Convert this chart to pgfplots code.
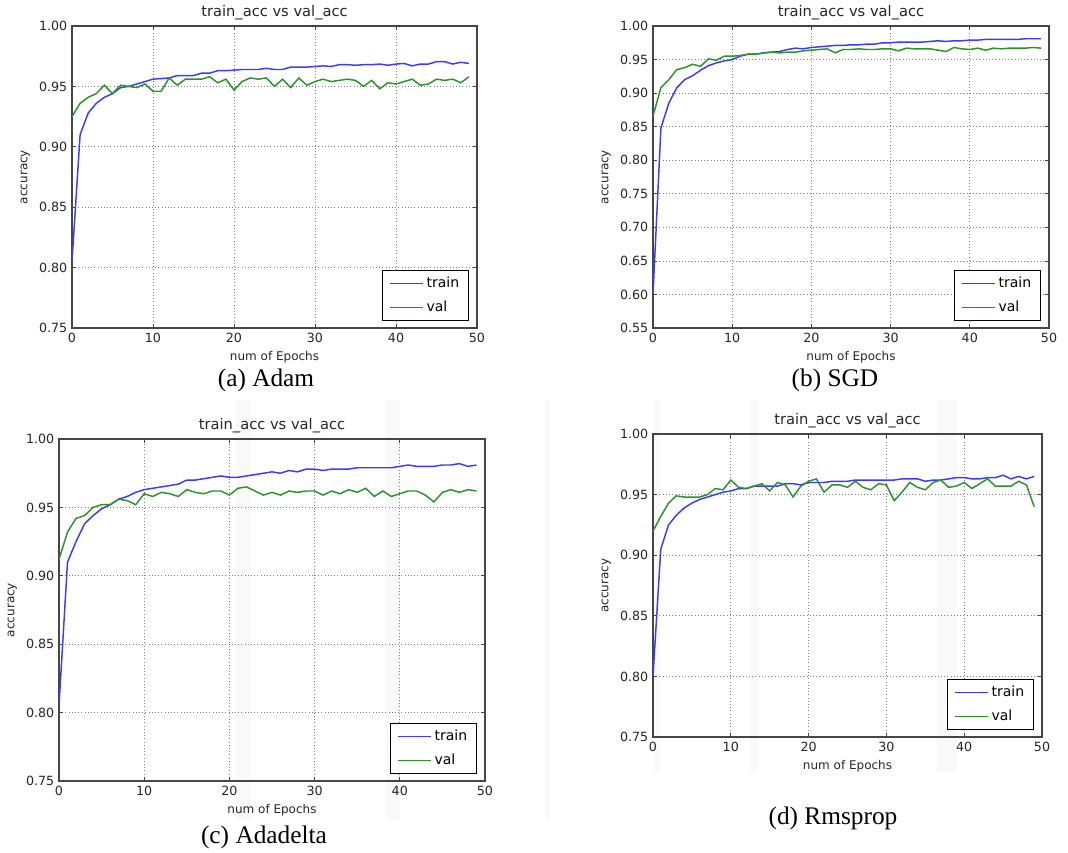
\documentclass[border=0pt]{standalone}
\usepackage{pgfplots}
\pgfplotsset{compat=1.18}
\usepackage{fontspec}
\setmainfont{DejaVu Sans}
\newfontfamily\capfont{Liberation Serif}
\definecolor{trcol}{RGB}{60,60,245}
\definecolor{vacol}{RGB}{45,145,45}
\definecolor{axcol}{RGB}{70,70,70}

\pgfplotstableread{
ep  atr    ava    btr    bva    ctr    cva    dtr    dva
0   0.805  0.925  0.600  0.866  0.805  0.912  0.800  0.920
1   0.910  0.936  0.848  0.908  0.910  0.932  0.905  0.932
2   0.928  0.941  0.885  0.920  0.925  0.942  0.925  0.943
3   0.936  0.944  0.908  0.935  0.938  0.944  0.933  0.949
4   0.941  0.951  0.920  0.938  0.944  0.950  0.939  0.948
5   0.944  0.944  0.926  0.943  0.949  0.952  0.943  0.948
6   0.949  0.951  0.934  0.940  0.952  0.952  0.946  0.948
7   0.950  0.950  0.941  0.951  0.956  0.956  0.948  0.950
8   0.952  0.949  0.945  0.949  0.958  0.955  0.950  0.955
9   0.954  0.952  0.948  0.955  0.961  0.952  0.952  0.954
10  0.956  0.946  0.950  0.955  0.963  0.960  0.953  0.962
11  0.9565 0.946  0.955  0.956  0.964  0.958  0.955  0.956
12  0.957  0.957  0.958  0.958  0.965  0.961  0.955  0.955
13  0.959  0.951  0.958  0.958  0.966  0.960  0.957  0.957
14  0.959  0.956  0.960  0.960  0.967  0.958  0.957  0.959
15  0.959  0.956  0.961  0.961  0.970  0.963  0.957  0.953
16  0.961  0.956  0.962  0.960  0.970  0.961  0.957  0.960
17  0.961  0.958  0.965  0.961  0.971  0.960  0.959  0.958
18  0.963  0.953  0.967  0.961  0.972  0.962  0.959  0.948
19  0.963  0.956  0.966  0.963  0.973  0.962  0.958  0.957
20  0.9635 0.947  0.968  0.964  0.972  0.959  0.960  0.961
21  0.964  0.954  0.969  0.965  0.972  0.964  0.960  0.963
22  0.964  0.957  0.970  0.966  0.973  0.965  0.960  0.952
23  0.964  0.956  0.971  0.960  0.974  0.962  0.961  0.958
24  0.965  0.957  0.971  0.965  0.975  0.959  0.961  0.958
25  0.964  0.950  0.972  0.965  0.976  0.961  0.961  0.956
26  0.964  0.956  0.972  0.966  0.975  0.959  0.962  0.961
27  0.966  0.949  0.973  0.965  0.977  0.962  0.962  0.956
28  0.966  0.957  0.973  0.965  0.976  0.961  0.962  0.954
29  0.966  0.951  0.975  0.966  0.978  0.962  0.962  0.959
30  0.9665 0.954  0.975  0.966  0.978  0.962  0.962  0.958
31  0.967  0.956  0.976  0.963  0.977  0.959  0.962  0.945
32  0.9665 0.954  0.976  0.967  0.978  0.962  0.963  0.952
33  0.968  0.955  0.976  0.966  0.978  0.960  0.963  0.960
34  0.968  0.956  0.976  0.966  0.978  0.963  0.963  0.956
35  0.9675 0.955  0.977  0.966  0.979  0.961  0.961  0.954
36  0.968  0.950  0.978  0.964  0.979  0.964  0.962  0.960
37  0.968  0.955  0.977  0.962  0.979  0.958  0.962  0.962
38  0.9685 0.948  0.978  0.968  0.979  0.962  0.963  0.956
39  0.9675 0.953  0.978  0.966  0.979  0.958  0.964  0.957
40  0.9685 0.952  0.979  0.965  0.980  0.960  0.964  0.960
41  0.969  0.954  0.979  0.967  0.981  0.962  0.963  0.955
42  0.967  0.956  0.980  0.964  0.980  0.962  0.963  0.959
43  0.9685 0.951  0.980  0.967  0.980  0.959  0.964  0.963
44  0.9685 0.952  0.980  0.966  0.980  0.954  0.964  0.957
45  0.9705 0.956  0.980  0.967  0.981  0.961  0.966  0.957
46  0.9705 0.955  0.980  0.967  0.981  0.963  0.963  0.957
47  0.9685 0.956  0.981  0.967  0.982  0.961  0.965  0.961
48  0.970  0.953  0.981  0.968  0.980  0.963  0.963  0.958
49  0.969  0.958  0.981  0.967  0.981  0.962  0.965  0.940
}\acc

\pgfplotsset{
  accplot/.style={
    scale only axis, anchor=south west,
    xmin=0, xmax=50, xtick={0,10,...,50},
    ymax=1.00,
    axis line style={axcol, line width=0.9pt},
    tick style={axcol, line width=0.5pt}, tick align=inside,
    major tick length=3pt,
    grid=major,
    major grid style={gray, dash pattern=on 0.8pt off 1.6pt, line width=0.5pt},
    tick label style={font=\fontsize{9.5}{10}\selectfont, text=black!85},
    /pgf/number format/assume math mode=true,
    yticklabel style={/pgf/number format/fixed, /pgf/number format/fixed zerofill, /pgf/number format/precision=2},
    xlabel={num of Epochs}, ylabel={accuracy},
    label style={font=\fontsize{9}{10}\selectfont, text=black!85},
    title={train\_acc vs val\_acc},
    title style={font=\fontsize{11}{12}\selectfont, text=black!85, yshift=-5pt},
    legend style={at={(axis description cs:1,0)}, anchor=south east,
      xshift=-6pt, yshift=5.25pt, draw=black, line width=0.8pt,
      font=\fontsize{10.5}{12}\selectfont, inner xsep=5pt, inner ysep=3pt,
      row sep=4.5pt, cells={anchor=west}},
    legend image code/.code={%
      \path (0pt,0pt) -- (25pt,0pt);
      \fill[#1, draw=none] (0pt,-0.65pt) rectangle (16pt,0.65pt);},
    every axis plot/.append style={line width=1.1pt},
  }
}

\begin{document}
\begin{tikzpicture}
\path (0pt,0pt) rectangle (801pt,-636.75pt);
% faint scan stripes
\fill[gray!5] (177pt,-300pt) rectangle (188.25pt,-615pt);
\fill[gray!5] (289.5pt,-300pt) rectangle (300pt,-615pt);
\fill[gray!5] (408.75pt,-300pt) rectangle (411.75pt,-615pt);
\fill[gray!5] (490.5pt,-300pt) rectangle (495pt,-579pt);
\fill[gray!5] (562.5pt,-300pt) rectangle (568.5pt,-579pt);
\fill[gray!5] (702.75pt,-300pt) rectangle (717.75pt,-579pt);

\begin{axis}[accplot, at={(54pt,-246pt)}, width=303.75pt, height=226.5pt,
  ymin=0.75, ytick={0.75,0.80,...,1.00}]
\addplot[trcol] table[x=ep, y=atr] {\acc};
\addplot[vacol] table[x=ep, y=ava] {\acc};
\legend{train, val}
\end{axis}

\begin{axis}[accplot, at={(489.75pt,-246pt)}, width=297pt, height=226.5pt,
  ymin=0.55, ytick={0.55,0.60,...,1.00}]
\addplot[trcol] table[x=ep, y=btr] {\acc};
\addplot[vacol] table[x=ep, y=bva] {\acc};
\legend{train, val}
\end{axis}

\begin{axis}[accplot, at={(44.25pt,-585.75pt)}, width=319.5pt, height=256.5pt,
  ymin=0.75, ytick={0.75,0.80,...,1.00}]
\addplot[trcol] table[x=ep, y=ctr] {\acc};
\addplot[vacol] table[x=ep, y=cva] {\acc};
\legend{train, val}
\end{axis}

\begin{axis}[accplot, at={(489.75pt,-552.75pt)}, width=291.75pt, height=227.25pt,
  ymin=0.75, ytick={0.75,0.80,...,1.00}]
\addplot[trcol] table[x=ep, y=dtr] {\acc};
\addplot[vacol] table[x=ep, y=dva] {\acc};
\legend{train, val}
\end{axis}

\node[font=\capfont\fontsize{19}{21}\selectfont] at (199.5pt,-285pt) {(a) Adam};
\node[font=\capfont\fontsize{19}{21}\selectfont] at (626.25pt,-285pt) {(b) SGD};
\node[font=\capfont\fontsize{19}{21}\selectfont] at (198pt,-627.75pt) {(c) Adadelta};
\node[font=\capfont\fontsize{19}{21}\selectfont] at (624.75pt,-613.5pt) {(d) Rmsprop};
\end{tikzpicture}
\end{document}
